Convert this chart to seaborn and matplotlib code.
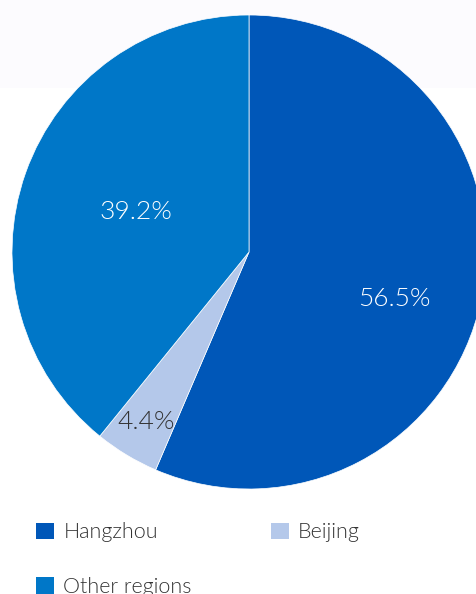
import numpy as np
import matplotlib
matplotlib.use("Agg")
import matplotlib.pyplot as plt
from matplotlib.patches import Rectangle, Patch
import seaborn as sns

# Revenue share by region
regions = ["Hangzhou", "Beijing", "Other regions"]
shares = [56.5, 4.4, 39.2]
label_text = ["56.5%", "4.4%", "39.2%"]

palette = ["#0057b8", "#b4c8ea", "#0077c8"]
label_colors = ["white", "#333333", "white"]
label_radius = [0.643, 0.836, 0.508]
label_angle_shift = [-6.3, 0.0, 0.0]

sns.set_theme(style="white")
plt.rcParams["font.family"] = ["Lato", "DejaVu Sans"]

W, H = 477, 594
fig = plt.figure(figsize=(W / 100, H / 100), dpi=100)
fig.patch.set_facecolor("white")
fig.patches.append(Rectangle((0, (H - 88) / H), 1, 88 / H, transform=fig.transFigure,
                             facecolor="#fcfbfe", edgecolor="none", zorder=-10))

cx, cy, r = 249, 252, 237
ax = fig.add_axes([(cx - r) / W, (H - cy - r) / H, 2 * r / W, 2 * r / H])

wedges, _ = ax.pie(shares, colors=palette, startangle=90, counterclock=False,
                   radius=1, wedgeprops=dict(edgecolor="white", linewidth=0.5))
ax.set_xlim(-1, 1)
ax.set_ylim(-1, 1)
ax.axis("off")

for w, txt, col, d, da in zip(wedges, label_text, label_colors, label_radius, label_angle_shift):
    mid = np.deg2rad((w.theta1 + w.theta2) / 2 + da)
    ax.text(d * np.cos(mid), d * np.sin(mid), txt, ha="center", va="center",
            color=col, fontsize=19, fontweight=300)

handles = [Patch(facecolor=c, edgecolor="none") for c in palette]
order = [0, 2, 1]
leg = fig.legend([handles[i] for i in order], [regions[i] for i in order],
                 loc="upper left", bbox_to_anchor=(17 / W, (H - 503) / H), ncol=2,
                 frameon=False, prop=dict(size=15.5, weight=300),
                 handlelength=0.8, handleheight=0.8,
                 handletextpad=0.45, columnspacing=3.7, labelspacing=1.6,
                 labelcolor="#333333")

fig.savefig("out.png", dpi=100)
